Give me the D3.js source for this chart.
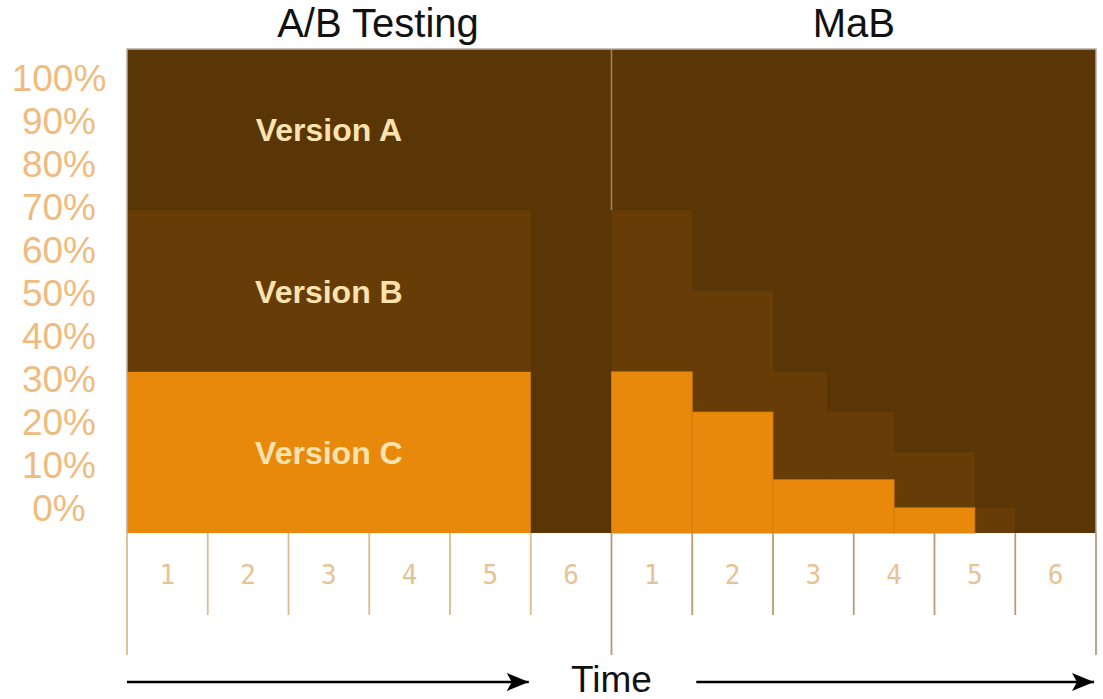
<!DOCTYPE html>
<html>
<head>
<meta charset="utf-8">
<script src="https://cdn.jsdelivr.net/npm/d3@7"></script>
<style>
body { margin:0; background:#fff; }
</style>
</head>
<body>
<div id="chart"></div>
<script>
// data
var sections = ["A/B Testing", "MaB"];
var periods = ["1", "2", "3", "4", "5", "6"];
var yTicks = [0, 10, 20, 30, 40, 50, 60, 70, 80, 90, 100];
var versions = ["Version A", "Version B", "Version C"];

// A/B test: fixed split for periods 1-5, nothing in period 6
var abPeriods = 5;
var abCTop = 33.3;
var abBTop = 66.7;

// MaB: cumulative tops (C + B), steps in periods from start of section
var mabBStart = [0, 1, 2, 2.67, 3.5, 4.5];
var mabBEnd = [1, 2, 2.67, 3.5, 4.5, 5];
var mabBTop = [66.7, 50, 33.3, 25, 16.7, 5.2];
var mabCStart = [0, 1, 2, 3.5];
var mabCEnd = [1, 2, 3.5, 4.5];
var mabCTop = [33.3, 25, 11, 5.2];

var w = 1103, h = 699;
var colA = "#5a3505", colB = "#683c06", colC = "#e8890b";

var svg = d3.select("#chart").append("svg")
  .attr("width", w)
  .attr("height", h);

var xScale = d3.scaleLinear().domain([0, 12]).range([127, 1096]);
var yScale = d3.scaleLinear().domain([0, 100]).range([533, 49]);
// the % labels sit a bit inside the plot height
var yLabel = d3.scaleLinear().domain([0, 100]).range([508, 78]);

// background = version A everywhere
svg.append("rect")
  .attr("x", xScale(0))
  .attr("y", yScale(100))
  .attr("width", xScale(12) - xScale(0))
  .attr("height", yScale(0) - yScale(100))
  .attr("fill", colA);

// A/B testing bars
svg.append("rect")
  .attr("x", xScale(0))
  .attr("y", yScale(abBTop))
  .attr("width", xScale(abPeriods) - xScale(0))
  .attr("height", yScale(0) - yScale(abBTop))
  .attr("fill", colB);
svg.append("rect")
  .attr("x", xScale(0))
  .attr("y", yScale(abCTop))
  .attr("width", xScale(abPeriods) - xScale(0))
  .attr("height", yScale(0) - yScale(abCTop))
  .attr("fill", colC);

// MaB steps
var bSteps = mabBTop.map(function(v, i) { return {x0: 6 + mabBStart[i], x1: 6 + mabBEnd[i], top: v}; });
var cSteps = mabCTop.map(function(v, i) { return {x0: 6 + mabCStart[i], x1: 6 + mabCEnd[i], top: v}; });

svg.selectAll("rect.bstep")
  .data(bSteps)
  .enter()
  .append("rect")
  .attr("class", "bstep")
  .attr("x", function(d) { return xScale(d.x0); })
  .attr("y", function(d) { return yScale(d.top); })
  .attr("width", function(d) { return xScale(d.x1) - xScale(d.x0); })
  .attr("height", function(d) { return yScale(0) - yScale(d.top); })
  .attr("fill", colB);

svg.selectAll("rect.cstep")
  .data(cSteps)
  .enter()
  .append("rect")
  .attr("class", "cstep")
  .attr("x", function(d) { return xScale(d.x0); })
  .attr("y", function(d) { return yScale(d.top); })
  .attr("width", function(d) { return xScale(d.x1) - xScale(d.x0); })
  .attr("height", function(d) { return yScale(0) - yScale(d.top); })
  .attr("fill", colC)
  .attr("stroke", "#d27b0a")
  .attr("stroke-width", 0.8);

// divider between the two halves
svg.append("line")
  .attr("x1", xScale(6)).attr("x2", xScale(6))
  .attr("y1", yScale(100)).attr("y2", yScale(abBTop))
  .attr("stroke", "#a08662")
  .attr("stroke-width", 1.5);

// frame (top, left, right)
svg.append("path")
  .attr("d", "M" + xScale(0) + "," + yScale(0) + "V" + yScale(100) + "H" + xScale(12) + "V" + yScale(0))
  .attr("fill", "none")
  .attr("stroke", "#b3ada4")
  .attr("stroke-width", 1.5);

// version labels
var bandTops = [100, abBTop, abCTop, 0];
svg.selectAll("text.version")
  .data(versions)
  .enter()
  .append("text")
  .attr("class", "version")
  .text(function(d) { return d; })
  .attr("x", xScale(abPeriods / 2))
  .attr("y", function(d, i) { return (yScale(bandTops[i]) + yScale(bandTops[i + 1])) / 2; })
  .attr("dy", "0.36em")
  .attr("text-anchor", "middle")
  .attr("font-family", "Liberation Sans, Arial, sans-serif")
  .attr("font-weight", "bold")
  .attr("font-size", 32)
  .attr("fill", "#fbe3b0");

// y labels
svg.selectAll("text.ylab")
  .data(yTicks)
  .enter()
  .append("text")
  .attr("class", "ylab")
  .text(function(d) { return d + "%"; })
  .attr("x", 59)
  .attr("y", function(d) { return yLabel(d); })
  .attr("dy", "0.36em")
  .attr("text-anchor", "middle")
  .attr("font-family", "Liberation Sans, Arial, sans-serif")
  .attr("font-size", 37)
  .attr("fill", "#f0bb7e");

// section titles
svg.selectAll("text.title")
  .data(sections)
  .enter()
  .append("text")
  .attr("class", "title")
  .text(function(d) { return d; })
  .attr("x", function(d, i) { return i == 0 ? 378 : xScale(9); })
  .attr("y", 37)
  .attr("text-anchor", "middle")
  .attr("font-family", "Liberation Sans, Arial, sans-serif")
  .attr("font-size", 40)
  .attr("fill", "#111");

// period ticks + numbers
var ticks = d3.range(0, 13);
svg.selectAll("line.tick")
  .data(ticks)
  .enter()
  .append("line")
  .attr("class", "tick")
  .attr("x1", function(d) { return xScale(d); })
  .attr("x2", function(d) { return xScale(d); })
  .attr("y1", yScale(0))
  .attr("y2", function(d) { return d % 6 == 0 ? 655 : 615; })
  .attr("stroke", function(d) { return d < 6 ? "#dcbb8e" : "#b89c76"; })
  .attr("stroke-width", 1.8);

var cells = [];
sections.forEach(function(s, si) {
  periods.forEach(function(p, pi) { cells.push({label: p, pos: si * 6 + pi + 0.5}); });
});
svg.selectAll("text.period")
  .data(cells)
  .enter()
  .append("text")
  .attr("class", "period")
  .text(function(d) { return d.label; })
  .attr("x", function(d) { return xScale(d.pos); })
  .attr("y", 575)
  .attr("dy", "0.36em")
  .attr("text-anchor", "middle")
  .attr("font-family", "DejaVu Sans Mono, monospace")
  .attr("font-size", 26)
  .attr("fill", "#e6c295");

// time arrows
svg.append("defs").append("marker")
  .attr("id", "head")
  .attr("viewBox", "0 0 22 18")
  .attr("refX", 22).attr("refY", 9)
  .attr("markerWidth", 22).attr("markerHeight", 18)
  .attr("markerUnits", "userSpaceOnUse")
  .attr("orient", "auto")
  .append("path")
  .attr("d", "M0,0 L22,9 L0,18 L5,9 z")
  .attr("fill", "#000");

var arrows = [[0, 5], [7.05, 12]];
svg.selectAll("line.arrow")
  .data(arrows)
  .enter()
  .append("line")
  .attr("class", "arrow")
  .attr("x1", function(d) { return xScale(d[0]); })
  .attr("x2", function(d) { return xScale(d[1]) - 2; })
  .attr("y1", 682).attr("y2", 682)
  .attr("stroke", "#000")
  .attr("stroke-width", 2.5)
  .attr("marker-end", "url(#head)");

svg.append("text")
  .text("Time")
  .attr("x", xScale(6))
  .attr("y", 692)
  .attr("text-anchor", "middle")
  .attr("font-family", "Liberation Sans, Arial, sans-serif")
  .attr("font-size", 37)
  .attr("fill", "#111");
</script>
</body>
</html>
